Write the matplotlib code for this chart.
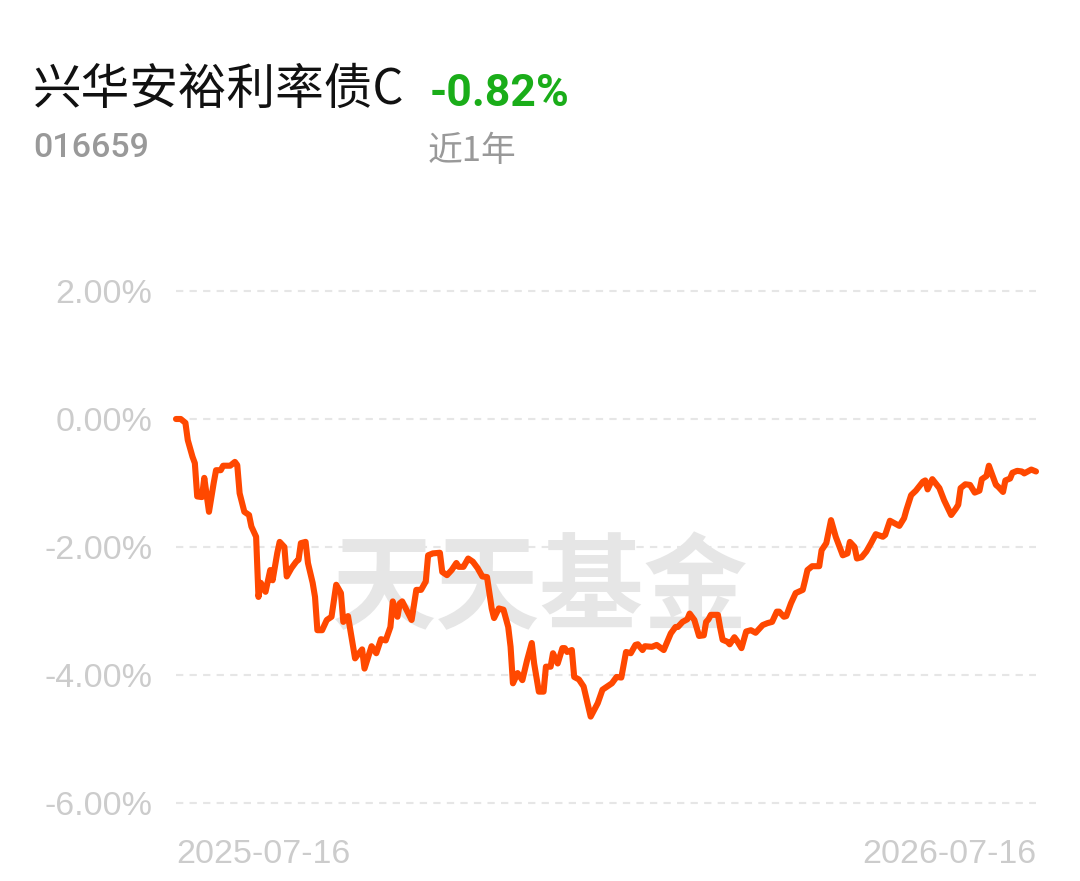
import matplotlib
matplotlib.use("Agg")
import matplotlib.pyplot as plt

# fund info
fund_name = "兴华安裕利率债C"
fund_code = "016659"
period_ret = "-0.82%"
period_label = "近1年"

# days since 2025-07-16, cumulative return in %
day = [0, 2, 4, 5, 7, 8, 9, 11, 12, 14, 16, 17, 19, 20, 23, 25, 26, 27, 29, 31,
       32, 34, 35, 36, 38, 40, 41, 43, 44, 46, 47, 49, 51, 52, 53, 55, 56, 58, 59, 60,
       62, 64, 66, 68, 70, 71, 73, 76, 77, 79, 80, 83, 85, 87, 89, 91, 92, 94, 95, 96,
       100, 102, 104, 106, 107, 109, 112, 113, 115, 117, 119, 120, 122, 124, 126, 128, 130, 132, 134, 135,
       137, 139, 141, 142, 143, 145, 147, 149, 151, 152, 154, 156, 157, 159, 160, 162, 164, 165, 166, 168,
       169, 171, 173, 176, 179, 181, 185, 187, 189, 191, 193, 195, 196, 198, 199, 202, 204, 207, 210, 212,
       213, 215, 217, 218, 220, 222, 224, 225, 226, 227, 230, 231, 232, 234, 235, 237, 238, 240, 242, 244,
       246, 249, 251, 253, 255, 256, 258, 259, 261, 263, 266, 267, 268, 270, 273, 274, 276, 278, 280, 283,
       285, 286, 288, 289, 291, 293, 295, 297, 300, 301, 303, 305, 307, 309, 310, 312, 314, 317, 318, 319,
       321, 324, 326, 329, 331, 332, 333, 335, 337, 339, 341, 342, 344, 345, 348, 349, 351, 352, 354, 355,
       357, 359, 360, 362, 363, 365]
ret = [0.00, 0.00, -0.06, -0.33, -0.59, -0.69, -1.21, -1.22, -0.92, -1.45, -1.00, -0.80, -0.80, -0.73, -0.73, -0.67, -0.72, -1.16, -1.45, -1.50,
       -1.68, -1.84, -2.78, -2.56, -2.70, -2.36, -2.52, -2.09, -1.92, -2.00, -2.46, -2.33, -2.23, -2.20, -1.94, -1.92, -2.25, -2.56, -2.78, -3.30,
       -3.30, -3.14, -3.09, -2.59, -2.72, -3.17, -3.08, -3.74, -3.69, -3.60, -3.90, -3.55, -3.66, -3.44, -3.46, -3.25, -2.85, -3.09, -2.88, -2.85,
       -3.14, -2.67, -2.67, -2.54, -2.13, -2.10, -2.09, -2.39, -2.44, -2.36, -2.25, -2.31, -2.31, -2.18, -2.23, -2.33, -2.46, -2.47, -2.96, -3.11,
       -2.96, -2.98, -3.25, -3.56, -4.13, -3.97, -4.08, -3.77, -3.50, -3.82, -4.26, -4.26, -3.87, -3.87, -3.66, -3.82, -3.58, -3.58, -3.64, -3.61,
       -4.03, -4.07, -4.18, -4.65, -4.44, -4.23, -4.13, -4.03, -4.04, -3.64, -3.66, -3.53, -3.52, -3.61, -3.55, -3.56, -3.53, -3.61, -3.35, -3.25,
       -3.25, -3.17, -3.13, -3.04, -3.14, -3.39, -3.38, -3.17, -3.13, -3.06, -3.06, -3.27, -3.45, -3.48, -3.52, -3.41, -3.46, -3.58, -3.32, -3.30,
       -3.34, -3.22, -3.19, -3.17, -3.01, -3.01, -3.09, -3.08, -2.88, -2.72, -2.67, -2.52, -2.36, -2.30, -2.30, -2.05, -1.94, -1.58, -1.84, -2.13,
       -2.10, -1.92, -2.00, -2.18, -2.16, -2.07, -1.94, -1.80, -1.84, -1.81, -1.59, -1.63, -1.67, -1.55, -1.42, -1.19, -1.12, -0.98, -0.96, -1.10,
       -0.94, -1.08, -1.27, -1.50, -1.40, -1.34, -1.08, -1.02, -1.03, -1.15, -1.12, -0.94, -0.89, -0.73, -1.03, -1.06, -1.14, -0.96, -0.93, -0.84,
       -0.81, -0.82, -0.85, -0.81, -0.79, -0.82]

y_ticks = [2, 0, -2, -4, -6]
y_labels = ["2.00%", "0.00%", "-2.00%", "-4.00%", "-6.00%"]
x_ticks = [0, 365]
x_labels = ["2025-07-16", "2026-07-16"]

plt.rcParams["font.family"] = ["Liberation Sans", "Noto Sans CJK SC", "DejaVu Sans"]

W, H = 1080, 881
fig = plt.figure(figsize=(W / 100, H / 100), dpi=100)
fig.patch.set_facecolor("white")

# axes: x 176..1036 px, y 2% at 291 px, -6% at 803 px
ax = fig.add_axes([176 / W, 1 - 812.6 / H, 860 / W, (812.6 - 281.4) / H])
ax.set_xlim(0, 365)
ax.set_ylim(-6.15, 2.15)

for s in ax.spines.values():
    s.set_visible(False)

for t in y_ticks:
    ax.axhline(t, color="#e6e6e6", lw=1.5, ls=(0, (3.5, 3)), zorder=1)

ax.text(0.4233, 0.419, "天天基金", transform=ax.transAxes, ha="center", va="center",
        fontsize=75, fontweight="bold", color="#e6e6e6", family="Noto Sans CJK SC", zorder=0)

ax.plot(day, ret, color="#ff4800", lw=4.4, solid_capstyle="round", solid_joinstyle="round",
        clip_on=False, zorder=3)

ax.set_yticks(y_ticks)
ax.set_yticklabels(y_labels)
ax.set_xticks(x_ticks)
ax.set_xticklabels(x_labels)
ax.tick_params(axis="both", length=0, labelsize=24.5, labelcolor="#cccccc")
ax.tick_params(axis="y", pad=17)
ax.tick_params(axis="x", pad=19)
xl = ax.get_xticklabels()
xl[0].set_ha("left")
xl[1].set_ha("right")

fig.text(33 / W, 1 - 104 / H, fund_name, fontsize=35, color="#111111",
         family="Noto Sans CJK SC", ha="left", va="baseline")
fig.text(430 / W, 1 - 106 / H, period_ret, fontsize=32, color="#1aad19",
         family="Roboto", fontweight="bold", ha="left", va="baseline")
fig.text(33 / W, 1 - 157 / H, fund_code, fontsize=24.5, color="#999999",
         family="Roboto", fontweight="medium", ha="left", va="baseline")
fig.text(428 / W, 1 - 161 / H, period_label, fontsize=25, color="#999999",
         family=["Noto Sans CJK SC", "Roboto"], ha="left", va="baseline")

fig.savefig("out.png", dpi=100, facecolor="white")
